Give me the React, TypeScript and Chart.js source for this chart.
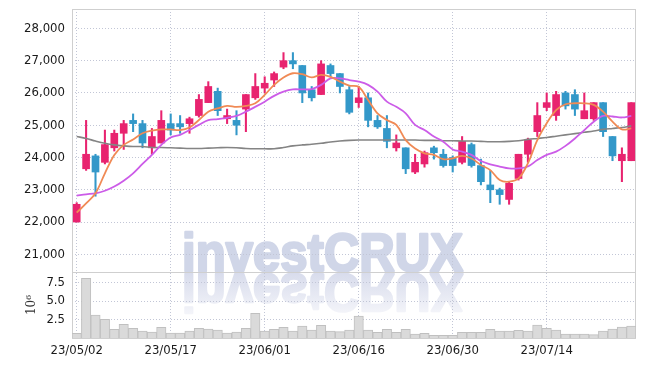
import React, { useEffect, useRef } from "react";
import { Chart, registerables } from "chart.js";

Chart.register(...registerables);

const dates = [
  "23/05/02", "23/05/03", "23/05/04", "23/05/08", "23/05/09", "23/05/10", "23/05/11", "23/05/12", "23/05/15", "23/05/16",
  "23/05/17", "23/05/18", "23/05/19", "23/05/22", "23/05/23", "23/05/24", "23/05/25", "23/05/26", "23/05/30", "23/05/31",
  "23/06/01", "23/06/02", "23/06/05", "23/06/07", "23/06/08", "23/06/09", "23/06/12", "23/06/13", "23/06/14", "23/06/15",
  "23/06/16", "23/06/19", "23/06/20", "23/06/21", "23/06/22", "23/06/23", "23/06/26", "23/06/27", "23/06/28", "23/06/29",
  "23/06/30", "23/07/03", "23/07/04", "23/07/05", "23/07/06", "23/07/07", "23/07/10", "23/07/11", "23/07/12", "23/07/13",
  "23/07/14", "23/07/17", "23/07/18", "23/07/19", "23/07/20", "23/07/21", "23/07/24", "23/07/25", "23/07/26", "23/07/27",
];

const opens = [
  22000, 23650, 24050, 23850, 24300, 24750, 25150, 25050, 24300, 24450,
  25050, 25050, 25050, 25300, 25700, 26050, 25200, 25150, 25500, 25850,
  26150, 26400, 26800, 27000, 26850, 26100, 25950, 26850, 26600, 26100,
  25700, 25850, 25150, 24900, 24300, 24300, 23550, 23800, 24300, 24100,
  24000, 23850, 24400, 23750, 23150, 23000, 22700, 23350, 24100, 24800,
  25550, 25300, 26000, 25950, 25200, 25200, 25700, 24650, 23900, 23900,
];
const highs = [
  22600, 25150, 24100, 24850, 24850, 25150, 25350, 25150, 24900, 25450,
  25350, 25300, 25250, 25950, 26350, 26150, 25500, 25450, 25950, 26600,
  26500, 26650, 27250, 27250, 26850, 26200, 27000, 26900, 26600, 26200,
  26200, 26000, 25300, 25300, 24700, 24300, 24100, 24200, 24350, 24250,
  24050, 24650, 24450, 23950, 23600, 23050, 23250, 24100, 24600, 25700,
  26000, 26050, 26050, 26100, 26000, 25700, 25700, 24650, 24300, 25700,
];
const lows = [
  22000, 23600, 22800, 23800, 24200, 24250, 24800, 24300, 24100, 24450,
  24700, 24750, 24750, 25250, 25700, 25300, 25050, 24700, 24800, 25800,
  26000, 26200, 26750, 26750, 25700, 25750, 25950, 26500, 26000, 25350,
  25550, 24950, 24900, 24300, 24200, 23500, 23500, 23700, 23950, 23700,
  23550, 23800, 23700, 23150, 22600, 22550, 22550, 23300, 23850, 24650,
  25450, 25150, 25500, 25300, 25200, 25150, 24650, 23900, 23250, 23900,
];
const closes = [
  22550, 24100, 23550, 24400, 24750, 25050, 25050, 24450, 24650, 25150,
  24850, 24950, 25200, 25800, 26200, 25450, 25300, 25000, 25950, 26200,
  26300, 26600, 27000, 26900, 26000, 25850, 26900, 26600, 26200, 25400,
  25850, 25150, 24950, 24500, 24450, 23650, 23850, 24150, 24150, 23750,
  23750, 24500, 23750, 23250, 23000, 22850, 23200, 24100, 24550, 25300,
  25700, 25950, 25600, 25500, 25450, 25700, 24800, 24050, 24100, 25700,
];

const ma5 = [
  22290, 22580, 22890, 23510, 24080, 24390, 24560, 24750, 24830, 24870,
  24870, 24850, 24930, 25160, 25420, 25520, 25600, 25570, 25600, 25680,
  25940, 26250, 26480, 26610, 26580, 26480, 26560, 26500, 26350, 26230,
  26190, 25780, 25370, 25160, 25010, 24540, 24280, 24130, 24080, 23950,
  23970, 24050, 23970, 23770, 23610, 23300, 23250, 23350, 23820, 24540,
  25060, 25470, 25650, 25680, 25680, 25630, 25420, 25110, 24870, 24900,
];
const ma20 = [
  22820, 22860, 22890, 22970, 23100, 23280, 23510, 23800, 24080, 24390,
  24620, 24700, 24850, 25010, 25160, 25190, 25230, 25290, 25420, 25570,
  25730, 25910, 26040, 26110, 26110, 26120, 26250, 26450, 26450, 26400,
  26350, 26250, 26040, 25730, 25570, 25370, 25010, 24850, 24650, 24490,
  24250, 24180, 24080, 23890, 23790, 23720, 23660, 23660, 23720, 23920,
  24080, 24180, 24360, 24590, 24850, 25110, 25290, 25270, 25240, 25290,
];
const ma60 = [
  24650, 24590, 24510, 24440, 24390, 24360, 24340, 24340, 24310, 24310,
  24300, 24290, 24280, 24280, 24290, 24300, 24310, 24300, 24280, 24270,
  24270, 24270, 24310, 24360, 24390, 24410, 24440, 24480, 24510, 24530,
  24540, 24540, 24540, 24540, 24540, 24540, 24540, 24530, 24530, 24520,
  24520, 24510, 24510, 24500, 24490, 24490, 24500, 24520, 24560, 24590,
  24620, 24660, 24700, 24740, 24780, 24820, 24870, 24900, 24930, 24980,
];

// volume in millions of shares
const volumes = [
  0.63, 8.06, 3.1, 2.52, 1.17, 1.85, 1.31, 0.95, 0.81, 1.44,
  0.68, 0.68, 0.95, 1.31, 1.22, 1.08, 0.68, 0.81, 1.31, 3.33,
  0.95, 1.17, 1.44, 0.95, 1.62, 1.08, 1.71, 0.95, 0.86, 1.08,
  2.97, 1.08, 0.77, 1.17, 0.77, 1.17, 0.54, 0.63, 0.36, 0.36,
  0.36, 0.77, 0.77, 0.77, 1.17, 0.95, 0.95, 1.04, 0.95, 1.76,
  1.31, 1.08, 0.54, 0.54, 0.54, 0.45, 0.95, 1.22, 1.49, 1.62,
];

const priceTicks = [21000, 22000, 23000, 24000, 25000, 26000, 27000, 28000];
const volumeTicks = [2.5, 5, 7.5];
const dateTickEvery = 10;

const FONT = "'DejaVu Sans Condensed', 'DejaVu Sans', sans-serif";
const GRID = "#c2c6d6";
const UP = "#e8236f";
const DOWN = "#3398c9";

const watermarkPlugin = {
  id: "watermark",
  beforeDraw(chart: any) {
    const { ctx } = chart;
    const y = chart.scales.y;
    if (!y) return;
    const base = y.bottom;
    const cx = chart.width / 2;
    const text = "investCRUX";
    ctx.save();
    ctx.font = "bold 53px 'Liberation Sans', Arial, sans-serif";
    ctx.textAlign = "center";
    ctx.textBaseline = "alphabetic";
    ctx.lineJoin = "round";
    const w = ctx.measureText(text).width;
    const sx = 281 / w;
    // main text
    ctx.save();
    ctx.translate(cx, base);
    ctx.scale(sx, 1);
    ctx.fillStyle = "#d0d6e8";
    ctx.strokeStyle = "#d0d6e8";
    ctx.lineWidth = 2.5;
    ctx.strokeText(text, 0, -1);
    ctx.fillText(text, 0, -1);
    ctx.restore();
    // reflection
    ctx.save();
    ctx.translate(cx, base + 1);
    ctx.scale(sx, -1);
    const g = ctx.createLinearGradient(0, 0, 0, -52);
    g.addColorStop(0, "#d8dcec");
    g.addColorStop(1, "#fbfbfd");
    ctx.fillStyle = g;
    ctx.strokeStyle = g;
    ctx.lineWidth = 2.5;
    ctx.strokeText(text, 0, -1);
    ctx.fillText(text, 0, -1);
    ctx.restore();
    ctx.restore();
  },
};

const framePlugin = {
  id: "frame",
  beforeDatasetsDraw(chart: any) {
    const { ctx, chartArea } = chart;
    const y = chart.scales.y;
    ctx.save();
    ctx.strokeStyle = "#cfcfcf";
    ctx.lineWidth = 1;
    ctx.strokeRect(
      Math.round(chartArea.left) + 0.5,
      Math.round(chartArea.top) + 0.5,
      Math.round(chartArea.right - chartArea.left) - 1,
      Math.round(chartArea.bottom - chartArea.top)
    );
    ctx.beginPath();
    ctx.moveTo(chartArea.left, Math.round(y.bottom) + 0.5);
    ctx.lineTo(chartArea.right, Math.round(y.bottom) + 0.5);
    ctx.stroke();
    ctx.restore();
  },
};

export default function App() {
  const ref = useRef<HTMLCanvasElement>(null);

  useEffect(() => {
    if (!ref.current) return;
    const colors = closes.map((c, i) => (c >= opens[i] ? UP : DOWN));
    const yFit = (axis: any) => {
      axis.width = 72;
      axis.paddingTop = 0;
      axis.paddingBottom = 0;
    };
    const chart = new Chart(ref.current, {
      type: "bar",
      data: {
        labels: dates,
        datasets: [
          {
            type: "line",
            label: "MA5",
            data: ma5,
            borderColor: "#f08a55",
            borderWidth: 1.8,
            pointRadius: 0,
            tension: 0.35,
            yAxisID: "y",
            order: 0,
          } as any,
          {
            type: "line",
            label: "MA20",
            data: ma20,
            borderColor: "#cc5ce8",
            borderWidth: 1.8,
            pointRadius: 0,
            tension: 0.35,
            yAxisID: "y",
            order: 0,
          } as any,
          {
            type: "line",
            label: "MA60",
            data: ma60,
            borderColor: "#848484",
            borderWidth: 1.6,
            pointRadius: 0,
            tension: 0.35,
            yAxisID: "y",
            order: 0,
          } as any,
          {
            type: "bar",
            label: "body",
            data: opens.map((o, i) => [o, closes[i]]),
            backgroundColor: colors,
            borderWidth: 0,
            barThickness: 7,
            minBarLength: 1,
            grouped: false,
            yAxisID: "y",
            order: 1,
          } as any,
          {
            type: "bar",
            label: "wick",
            data: lows.map((l, i) => [l, highs[i]]),
            backgroundColor: colors,
            borderWidth: 0,
            barThickness: 1.4,
            grouped: false,
            yAxisID: "y",
            order: 2,
          } as any,
          {
            type: "bar",
            label: "volume",
            data: volumes,
            backgroundColor: "#dadada",
            borderColor: "#c0c0c0",
            borderWidth: 1,
            barPercentage: 1,
            categoryPercentage: 1,
            grouped: false,
            yAxisID: "yv",
            order: 3,
          } as any,
        ],
      },
      options: {
        responsive: false,
        animation: false,
        devicePixelRatio: 1,
        layout: { padding: { top: 9, right: 9, left: 0, bottom: 0 } },
        plugins: { legend: { display: false }, tooltip: { enabled: false } },
        scales: {
          x: {
            type: "category",
            offset: true,
            grid: { offset: false, color: GRID, drawTicks: false },
            border: { display: false, dash: [1, 2] },
            ticks: {
              autoSkip: false,
              maxRotation: 0,
              padding: 5,
              color: "#1a1a1a",
              font: { family: FONT, size: 13 },
            },
            afterBuildTicks: (axis: any) => {
              axis.ticks = axis.ticks.filter((t: any) => t.value % dateTickEvery === 0);
            },
            afterFit: (axis: any) => {
              axis.height = 28;
              axis.paddingLeft = 0;
              axis.paddingRight = 0;
            },
          },
          y: {
            type: "linear",
            position: "left",
            stack: "main",
            stackWeight: 263,
            weight: 1,
            min: 20452,
            max: 28601,
            grid: { color: GRID, drawTicks: false },
            border: { display: false, dash: [1, 2] },
            ticks: {
              autoSkip: false,
              padding: 7,
              color: "#1a1a1a",
              font: { family: FONT, size: 13 },
              callback: (v: any) => Number(v).toLocaleString("en-US"),
            },
            afterBuildTicks: (axis: any) => {
              axis.ticks = priceTicks.map((v) => ({ value: v }));
            },
            afterFit: yFit,
          },
          yv: {
            type: "linear",
            position: "left",
            stack: "main",
            stackWeight: 66,
            weight: 0,
            min: 0,
            max: 8.92,
            grid: { color: GRID, drawTicks: false },
            border: { display: false, dash: [1, 2] },
            title: {
              display: true,
              text: "10⁶",
              color: "#333",
              font: { family: "'DejaVu Serif', serif", size: 12 },
              padding: { top: 25, bottom: 0 },
            },
            ticks: {
              autoSkip: false,
              padding: 7,
              color: "#1a1a1a",
              font: { family: FONT, size: 13 },
              callback: (v: any) => Number(v).toFixed(1),
            },
            afterBuildTicks: (axis: any) => {
              axis.ticks = volumeTicks.map((v) => ({ value: v }));
            },
            afterFit: yFit,
          },
        } as any,
      },
      plugins: [watermarkPlugin, framePlugin],
    });
    return () => chart.destroy();
  }, []);

  return (
    <div style={{ position: "fixed", left: 0, top: 0, width: 645, height: 366, background: "#fff" }}>
      <canvas ref={ref} width={645} height={366} style={{ display: "block" }} />
    </div>
  );
}
